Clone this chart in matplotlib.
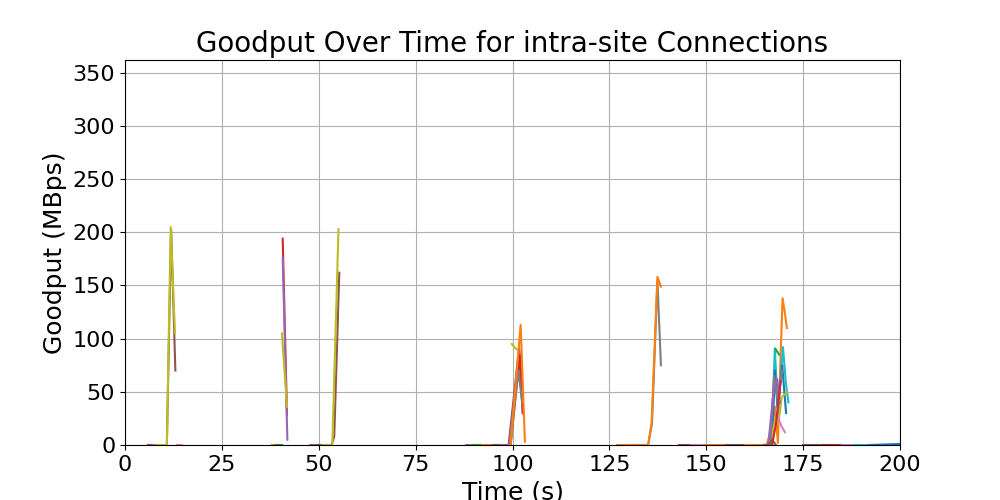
import matplotlib
matplotlib.use("Agg")
import matplotlib.pyplot as plt

# each connection: sample times (s) and goodput (MBps)
conn_times = [
    [6, 7], [7, 8.2], [10.8, 11.9, 13.0], [8, 9, 10, 10.8, 11.8, 12.9], [13.5, 14.6],
    [38, 39], [39, 40.6], [40.7, 41.8], [40.7, 41.9], [40.5, 41.8],
    [47.7, 49.5], [49.5, 53.3, 54.0, 55.3], [51, 53.5, 55.1],
    [88, 90], [90, 92], [92, 95], [95, 97, 99, 101.7, 102.5], [97, 99.2, 101.8, 102.6],
    [99, 99.5, 101.9, 102.7], [99, 99.5, 101.5, 102.5], [99.8, 101], [99, 99.5, 102.1, 103.2],
    [130, 133], [133, 135, 136, 137.4, 138.3], [127, 135, 135.9, 137.4, 138.3],
    [143, 146], [146, 150], [150, 155], [155, 160],
    [160, 165.6, 166.9, 167.7, 168.5, 169.2, 169.7, 170.3, 170.8],
    [165, 166.8, 167.7, 168.5, 169.8, 170.5, 171.2],
    [165, 167, 167.7, 168.4, 169.6, 170.6],
    [167.9, 168.8],
    [165, 166.5, 167.8, 168.6, 169.5, 170.9],
    [168, 169.5, 170.3],
    [165, 166.5, 167.5, 168.5, 169.5],
    [166, 167.5, 168.3, 169],
    [165, 166, 167, 168],
    [167, 168, 169.2],
    [175, 180], [180, 185], [185, 188], [188, 192], [192, 200],
]
conn_goodput = [
    [0, 0], [0, 0], [0, 203, 70], [0, 0, 0, 0, 205, 105], [0, 0],
    [0, 0], [0, 0], [194, 28], [176, 5], [105, 36],
    [0, 0], [0, 0, 8, 162], [0, 0, 203],
    [0, 0], [0, 0], [0, 0], [0, 0, 0, 91, 40], [0, 0, 88, 30],
    [0, 0, 85, 30], [0, 0, 70, 40], [95, 90], [0, 0, 113, 3],
    [0, 0], [0, 0, 20, 155, 75], [0, 0, 21, 158, 149],
    [0, 0], [0, 0], [0, 0], [0, 0],
    [0, 0, 17, 36, 2, 86, 138, 124, 110],
    [0, 0, 91, 30, 92, 60, 40],
    [0, 0, 70, 35, 75, 30],
    [90, 85],
    [0, 0, 25, 20, 45, 50],
    [30, 17, 12],
    [0, 0, 65, 40, 70],
    [0, 55, 62, 40],
    [0, 0, 5, 0],
    [0, 20, 60],
    [0, 0], [0, 0], [0, 0], [0, 0], [0, 1],
]
conn_colors = [
    "C3", "C4", "C5", "C8", "C6",
    "C1", "C2", "C3", "C4", "C8",
    "C4", "C5", "C8",
    "C7", "C2", "C1", "C5", "C4",
    "C3", "C7", "C8", "C1",
    "C5", "C7", "C1",
    "C5", "C6", "C1", "C5",
    "C1",
    "C9",
    "C0",
    "C2",
    "C8",
    "C6",
    "C7",
    "C4",
    "C5",
    "C3",
    "C5", "C3", "C6", "C9", "C0",
]

fig, ax = plt.subplots(figsize=(10, 5), dpi=100)
for t, g, c in zip(conn_times, conn_goodput, conn_colors):
    ax.plot(t, g, color=c)

ax.set_xlim(0, 200)
ax.set_ylim(0, 362)
ax.set_title("Goodput Over Time for intra-site Connections", fontsize=20)
ax.set_xlabel("Time (s)", fontsize=18)
ax.set_ylabel("Goodput (MBps)", fontsize=18)
ax.tick_params(labelsize=16)
ax.grid(True)
fig.savefig("out.png")
